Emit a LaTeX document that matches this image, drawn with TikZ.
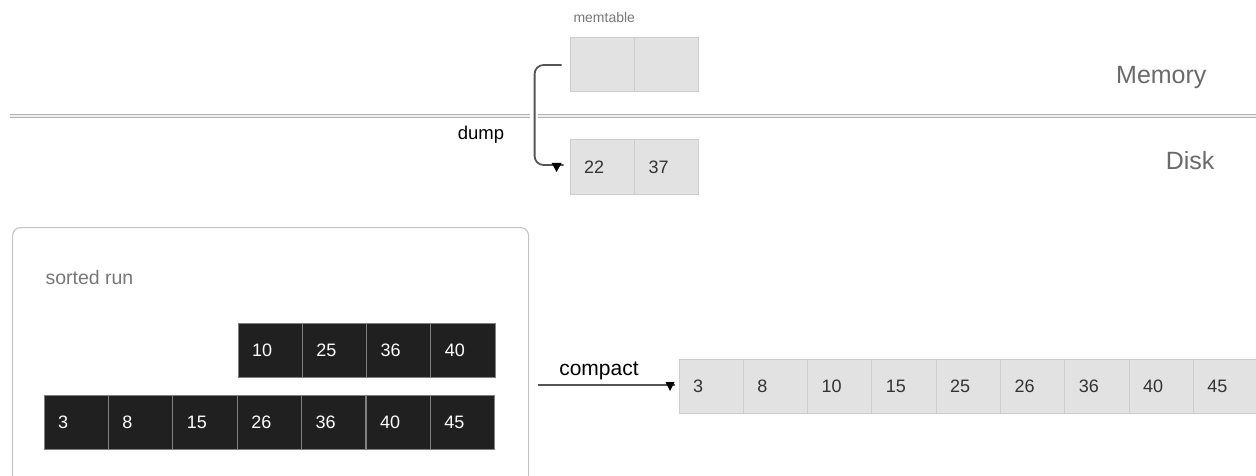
\documentclass[tikz,border=0pt]{standalone}
\usepackage{fontspec}
\setmainfont{Liberation Sans}
\usetikzlibrary{calc}
\definecolor{darkfill}{HTML}{202020}
\definecolor{darkedge}{HTML}{808080}
\definecolor{lightfill}{HTML}{E2E2E2}
\definecolor{lightedge}{HTML}{CDCDCD}
\definecolor{celltext}{HTML}{333333}
\definecolor{zonetext}{HTML}{6A6A6A}
\definecolor{labeltext}{HTML}{777777}
\definecolor{conncol}{HTML}{555555}
\definecolor{sepedge}{HTML}{B4B4B4}
\definecolor{sepfill}{HTML}{EFEFEF}
\definecolor{boxedge}{HTML}{C4C4C4}
\begin{document}
\begin{tikzpicture}[x=1pt,y=-1pt,
  cellbase/.style={rectangle, minimum height=54pt, text width=36.3pt, inner xsep=14pt, inner ysep=0pt, align=left, font=\fontsize{18}{18}\selectfont, line width=1pt},
  darkcell/.style={cellbase, fill=darkfill, draw=darkedge, text=white},
  lightcell/.style={cellbase, fill=lightfill, draw=lightedge, text=celltext},
  conn/.style={draw=conncol, line width=1.8pt},
  tip/.style={fill=black},
  sep/.style={draw=sepedge, double=sepfill, double distance=2pt, line width=0.9pt},
  zone/.style={text=zonetext, font=\fontsize{25}{25}\selectfont, anchor=base east},
  small/.style={text=labeltext, font=\fontsize{14}{14}\selectfont, anchor=base west},
  connlabel/.style={text=black, font=\fontsize{18.5}{18.5}\selectfont, anchor=base}
]
\useasboundingbox (0,0) rectangle (1256,476);

% separator
\coordinate (sepL) at (10,116);
\coordinate (sepM1) at (530,116);
\coordinate (sepM2) at (538,116);
\coordinate (sepR) at (1258,116);
\draw[sep] (sepL) -- (sepM1);
\draw[sep] (sepM2) -- (sepR);

\node[zone] (memory) at (1210,84) {Memory};
\node[zone] (disk) at (1218,170) {Disk};

% memtable
\node[small] (memlbl) at (570,23) {memtable};
\node[lightcell] (m1) at (602.25,65) {};
\node[lightcell] (m2) at (666.75,65) {};
% disk table
\node[lightcell] (k1) at (602.25,167) {22};
\node[lightcell] (k2) at (666.75,167) {37};

% dump connector
\coordinate (dumpstart) at ($(m1.west)+(-8,0)$);
\coordinate (dumpbend) at ($(m1.west)+(-35,0)$);
\coordinate (dumpend) at ($(k1.west)+(-6,-2)$);
\draw[conn, rounded corners=9pt] (dumpstart) -- (dumpbend) |- (dumpend);
\fill[tip] ($(dumpend)+(-12,-2)$) -- ++(10,0) -- ++(-5,9) -- cycle;
\node[connlabel] (dump) at (481,140) {dump};

% sorted run container
\node[draw=boxedge, line width=1.1pt, rounded corners=8pt, minimum width=516pt, minimum height=270pt, anchor=north west, inner sep=0pt] (run) at (12,227) {};
\node[small, font=\fontsize{19.5}{19.5}\selectfont] (runlbl) at (42,284) {sorted run};

\foreach \v [count=\i from 0] in {10,25,36,40}
  \node[darkcell] (t\i) at (238+32.15+\i*64.3,350) {\v};
\foreach \v [count=\i from 0] in {3,8,15,26,36,40,45}
  \node[darkcell] (b\i) at (44+32.2+\i*64.4,422.5) {\v};

% compact
\foreach \v [count=\i from 0] in {3,8,10,15,25,26,36,40,45}
  \node[lightcell] (r\i) at (679+32.15+\i*64.3,386) {\v};
\coordinate (cstart) at ($(run.east |- r0.west)+(9,-1)$);
\coordinate (cend) at ($(r0.west)+(-4,-1)$);
\draw[conn] (cstart) -- (cend);
\fill[tip] ($(cend)+(-9,-3)$) -- ++(9,0) -- ++(-4.5,9) -- cycle;
\node[connlabel, font=\fontsize{21}{21}\selectfont] (compact) at (599,375) {compact};
\end{tikzpicture}
\end{document}
